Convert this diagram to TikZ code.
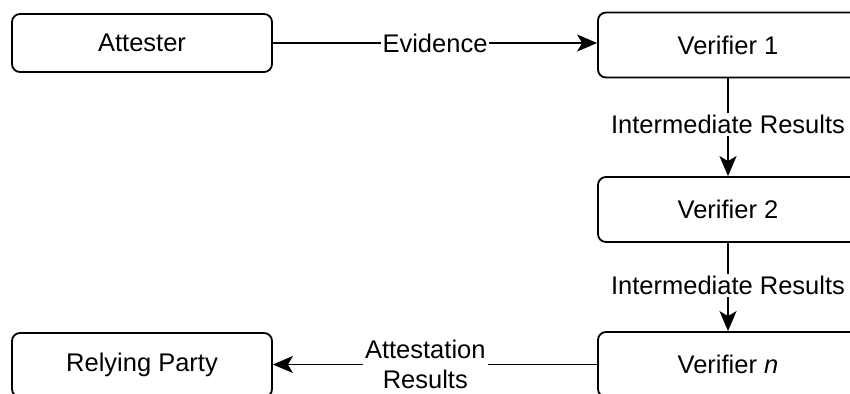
\documentclass[tikz,border=0pt]{standalone}
\usepackage{fontspec}
\setmainfont{Liberation Sans}
\usetikzlibrary{arrows.meta}
\begin{document}
\begin{tikzpicture}[x=1bp,y=-1bp,
  box/.style={draw, line width=1.8bp, rounded corners=8bp, minimum width=260bp,
    inner sep=0pt, fill=white, font=\fontsize{25.5bp}{30bp}\selectfont},
  flow/.style={line width=1.7bp, -{Stealth[length=20bp,width=17bp,inset=5bp]}},
  lbl/.style={fill=white, inner sep=2bp, align=center,
    font=\fontsize{25.5bp}{30bp}\selectfont}]
\useasboundingbox (0,0) rectangle (850,393);
\clip (0,0) rectangle (850,393);

% components of the chain
\node[box, minimum height=58bp] (att) at (142,43) {Attester};
\node[box, minimum height=65bp] (v1) at (728,45) {Verifier 1};
\node[box, minimum height=65bp] (v2) at (728,209.5) {Verifier 2};
\node[box, minimum height=65bp] (vn) at (728,364.5) {Verifier \textit{n}};
\node[box, minimum height=64bp] (rp) at (142,365) {Relying Party};

% messages passed between them
\draw[flow] (att.east) -- node[lbl] {Evidence} (att.east -| v1.west);
\draw[flow] (v1) -- node[lbl, pos=0.47] {Intermediate Results} (v2);
\draw[flow] (v2) -- node[lbl, pos=0.48] {Intermediate Results} (vn);
\draw[flow] (vn.west) -- node[lbl, pos=0.53] {Attestation\\Results} (vn.west -| rp.east);
\end{tikzpicture}
\end{document}
